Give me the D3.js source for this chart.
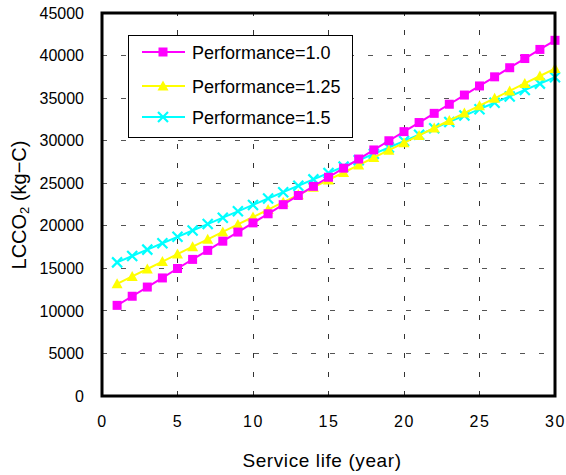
<!DOCTYPE html>
<html>
<head>
<meta charset="utf-8">
<script src="https://cdn.jsdelivr.net/npm/d3@7/dist/d3.min.js"></script>
<style>
  html, body { margin: 0; padding: 0; background: #fff; }
  svg { display: block; }
</style>
</head>
<body>
<svg id="chart" width="566" height="475"></svg>
<script>
// Service life in years
const years = d3.range(1, 31);

// Life-cycle CO2 (kg-C) for each performance factor
const perf10  = [10650, 11720, 12800, 13870, 14980, 16050, 17110, 18190, 19260, 20340,
                 21410, 22480, 23560, 24630, 25700, 26770, 27840, 28910, 29990, 31060,
                 32130, 33210, 34280, 35360, 36430, 37500, 38570, 39650, 40720, 41790];
const perf125 = [13180, 14050, 14920, 15800, 16670, 17540, 18410, 19280, 20160, 21030,
                 21900, 22770, 23640, 24520, 25390, 26260, 27130, 28010, 28880, 29750,
                 30620, 31490, 32370, 33240, 34110, 34980, 35850, 36730, 37600, 38470];
const perf15  = [15700, 16450, 17200, 17950, 18700, 19450, 20200, 20950, 21700, 22450,
                 23200, 23950, 24700, 25450, 26200, 26950, 27700, 28450, 29200, 29950,
                 30700, 31450, 32200, 32950, 33700, 34450, 35200, 35950, 36700, 37450];

const seriesNames = ["Performance=1.0", "Performance=1.25", "Performance=1.5"];
const xTicks = [0, 5, 10, 15, 20, 25, 30];
const yTicks = [0, 5000, 10000, 15000, 20000, 25000, 30000, 35000, 40000, 45000];

const svg = d3.select("#chart");
const mLeft = 102, mRight = 555, mTop = 13, mBottom = 396;

const x = d3.scaleLinear().domain([0, 30]).range([mLeft, mRight]);
const y = d3.scaleLinear().domain([0, 45000]).range([mBottom, mTop]);

// dashed grid
const grid = svg.append("g");
grid.selectAll("line.h").data(yTicks.slice(1, -1)).join("line")
  .attr("x1", mLeft).attr("x2", mRight)
  .attr("y1", d => y(d)).attr("y2", d => y(d))
  .attr("stroke", "#555").attr("stroke-width", 1)
  .attr("stroke-dasharray", "5,14").attr("shape-rendering", "crispEdges");
grid.selectAll("line.v").data(xTicks.slice(1, -1)).join("line")
  .attr("y1", mBottom).attr("y2", mTop)
  .attr("x1", d => x(d)).attr("x2", d => x(d))
  .attr("stroke", "#333").attr("stroke-width", 1)
  .attr("stroke-dasharray", "5,14").attr("shape-rendering", "crispEdges");

// axes (labels only; frame is drawn separately)
const xAxis = svg.append("g").attr("transform", `translate(0,${mBottom})`)
  .call(d3.axisBottom(x).tickValues(xTicks).tickFormat(d3.format("d"))
    .tickSize(0).tickPadding(20));
xAxis.select(".domain").remove();
xAxis.selectAll("text").attr("font-family", "Liberation Sans, Arial, sans-serif")
  .attr("font-size", 16).attr("letter-spacing", 1.5).attr("fill", "#000");

const yAxis = svg.append("g").attr("transform", `translate(${mLeft},0)`)
  .call(d3.axisLeft(y).tickValues(yTicks).tickFormat(d3.format("d"))
    .tickSize(0).tickPadding(18));
yAxis.select(".domain").remove();
yAxis.selectAll("text").attr("font-family", "Liberation Sans, Arial, sans-serif")
  .attr("font-size", 16).attr("fill", "#000");

// series
const series = [
  { name: seriesNames[0], values: perf10,  color: "#FF00FF", marker: "square" },
  { name: seriesNames[1], values: perf125, color: "#FFFF00", marker: "triangle" },
  { name: seriesNames[2], values: perf15,  color: "#00FFFF", marker: "cross" }
];

const line = d3.line().x((d, i) => x(years[i])).y(d => y(d));

function drawMarker(g, type, color, cx, cy) {
  if (type === "square") {
    g.append("rect").attr("x", cx - 4.5).attr("y", cy - 4.5)
      .attr("width", 9).attr("height", 9).attr("fill", color);
  } else if (type === "triangle") {
    g.append("path").attr("d", `M${cx},${cy - 5.5}L${cx + 5.5},${cy + 4.5}L${cx - 5.5},${cy + 4.5}Z`)
      .attr("fill", color);
  } else {
    g.append("path").attr("d", `M${cx - 5},${cy - 5}L${cx + 5},${cy + 5}M${cx - 5},${cy + 5}L${cx + 5},${cy - 5}`)
      .attr("stroke", color).attr("stroke-width", 2.2).attr("fill", "none");
  }
}

const plot = svg.append("g");
// draw last series first so magenta sits on top
[...series].reverse().forEach(s => {
  const g = plot.append("g");
  g.append("path").datum(s.values).attr("d", line)
    .attr("fill", "none").attr("stroke", s.color).attr("stroke-width", 2);
  s.values.forEach((v, i) => drawMarker(g, s.marker, s.color, x(years[i]), y(v)));
});

// frame
svg.append("rect").attr("x", mLeft).attr("y", mTop)
  .attr("width", mRight - mLeft).attr("height", mBottom - mTop)
  .attr("fill", "none").attr("stroke", "#000").attr("stroke-width", 3);

// legend
const lg = svg.append("g");
lg.append("rect").attr("x", 128.5).attr("y", 35.5).attr("width", 224).attr("height", 102)
  .attr("fill", "#fff").attr("stroke", "#000").attr("stroke-width", 1);
const rows = [52, 86, 117];
series.forEach((s, i) => {
  const yy = rows[i];
  lg.append("line").attr("x1", 142).attr("x2", 185).attr("y1", yy).attr("y2", yy)
    .attr("stroke", s.color).attr("stroke-width", 2);
  drawMarker(lg, s.marker, s.color, 163, yy);
  lg.append("text").attr("x", 192).attr("y", yy + 6.5).text(s.name)
    .attr("font-family", "Liberation Sans, Arial, sans-serif").attr("font-size", 18);
});

// axis titles
svg.append("text").attr("x", 322).attr("y", 467)
  .attr("text-anchor", "middle")
  .attr("font-family", "Liberation Sans, Arial, sans-serif").attr("font-size", 19)
  .attr("letter-spacing", 0.6)
  .text("Service life (year)");

const yt = svg.append("text")
  .attr("transform", "translate(26,205) rotate(-90)")
  .attr("text-anchor", "middle")
  .attr("font-family", "Liberation Sans, Arial, sans-serif").attr("font-size", 20);
yt.append("tspan").text("LCCO");
yt.append("tspan").attr("font-size", 13).attr("dy", 3).text("2");
yt.append("tspan").attr("dy", -3).text(" (kg\u2212C)");
</script>
</body>
</html>
